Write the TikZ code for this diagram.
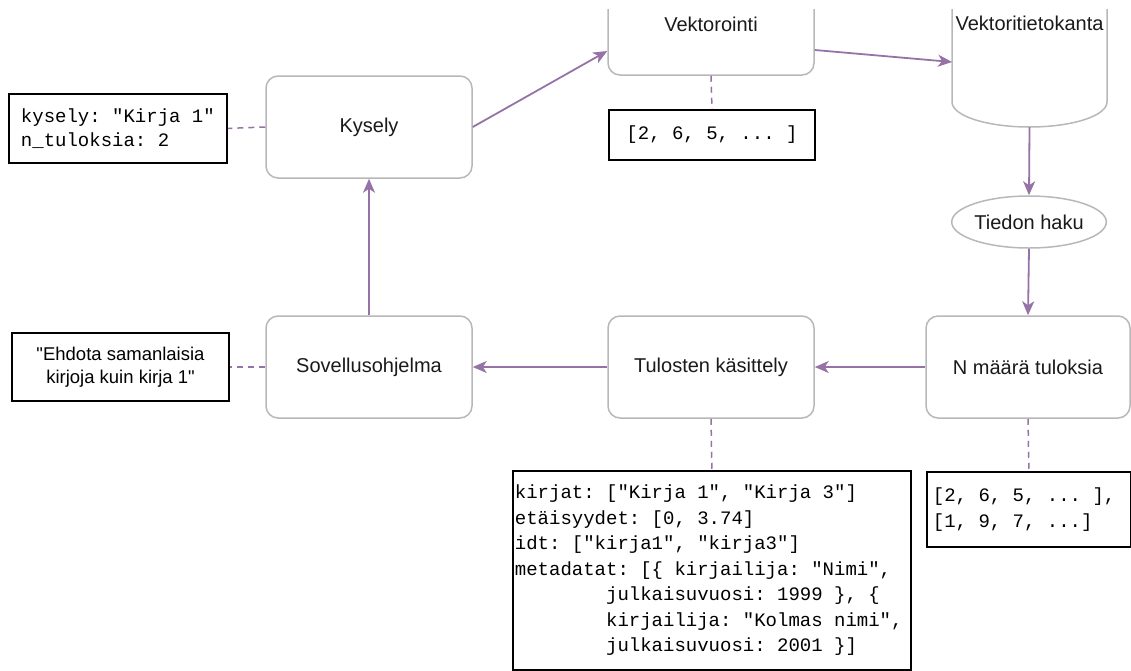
\documentclass[tikz,border=0pt]{standalone}
\usepackage{fontspec}
\setmainfont{Liberation Sans}
\newfontfamily\monof{Liberation Mono}
\usetikzlibrary{shapes.geometric,arrows.meta}
\definecolor{purp}{HTML}{9673A6}
\definecolor{boxgray}{HTML}{B8B8B8}
\definecolor{txt}{HTML}{1A1A1A}
\frenchspacing
\newcommand{\monosize}[2]{\monof\fontsize{#1}{#2}\selectfont}
\newcommand{\fixsp}{\spaceskip=0.6em\relax\xspaceskip=0.6em\relax}
\tikzset{
  proc/.style={draw=boxgray, line width=1.5pt, rounded corners=12pt, fill=white,
    minimum width=206pt, minimum height=102pt, inner sep=0pt, text=txt,
    font=\fontsize{20}{24}\selectfont},
  codebox/.style={draw=black, line width=1.8pt, fill=white, text=black, inner sep=0pt,
    font=\monosize{19}{24}},
  arr/.style={draw=purp, line width=1.8pt, -{Stealth[length=14pt,width=12pt,inset=4pt]}},
  dotline/.style={draw=purp, line width=1.5pt, dash pattern=on 6pt off 5pt},
}
\begin{document}
\begin{tikzpicture}[x=1pt,y=-1pt]
\useasboundingbox (0,0) rectangle (1131,670);
\begin{scope}
\clip (0,9) rectangle (1131,670);
% process boxes
\node[proc] (kys) at (369,127) {Kysely};
\node[proc] (vek) at (711,24) {Vektorointi};
\node[proc] (sov) at (369,367) {Sovellusohjelma};
\node[proc] (tul) at (711,367) {Tulosten käsittely};
\node[proc, minimum width=204pt] (nm) at (1028,367) {N määrä tuloksia};
% cylinder
\draw[boxgray, line width=1.5pt, fill=white] (952,-40) -- (952,102)
   arc[start angle=180, end angle=360, x radius=77.5pt, y radius=25pt] -- (1107,-40);
\node[inner sep=0pt, text=txt, font=\fontsize{20}{24}\selectfont] (cyl) at (1029.5,23) {Vektoritietokanta};
\coordinate (cylw) at (952,62);
\coordinate (cylb) at (1029.5,127);
% ellipse
\node[ellipse, draw=boxgray, line width=1.5pt, fill=white, minimum width=120pt, minimum height=52pt,
  inner sep=0pt, text=txt, font=\fontsize{20}{24}\selectfont] (haku) at (1029,222) {Tiedon haku};
% code boxes
\node[codebox, anchor=north west, minimum width=218pt, minimum height=69pt, align=left] (c1) at (8,93)
  {\fixsp kysely: "Kirja 1"\\n\_tuloksia: 2};
\node[codebox, minimum width=206pt, minimum height=50pt] (c2) at (712,135) {[2, 6, 5, ... ]};
\node[codebox, minimum width=217pt, minimum height=68pt, align=center,
  font=\fontsize{18.5}{23}\selectfont] (c3) at (120.5,367)
  {\textquotedbl Ehdota samanlaisia\\kirjoja kuin kirja 1\textquotedbl};
\node[codebox, anchor=north west, text width=394pt, inner xsep=2pt, inner ysep=14pt, align=left,
  font=\monosize{19}{25.5}] (c4) at (512,470)
  {\fixsp kirjat: ["Kirja 1", "Kirja 3"]\\
   etäisyydet: [0, 3.74]\\
   idt: ["kirja1", "kirja3"]\\
   metadatat: [\{ kirjailija: "Nimi",\\
   \hphantom{metadata}julkaisuvuosi: 1999 \}, \{\\
   \hphantom{metadata}kirjailija: "Kolmas nimi",\\
   \hphantom{metadata}julkaisuvuosi: 2001 \}]\\[12pt]};
\node[codebox, anchor=north west, text width=192pt, inner xsep=6pt, minimum height=75pt, align=left,
  font=\monosize{19}{26}] (c5) at (926,471)
  {\fixsp [2, 6, 5, ... ],\\{}[1, 9, 7, ...]};
% connectors
\draw[arr] (kys.east) -- ([yshift=-27pt]vek.west);
\draw[arr] ([yshift=-26pt]vek.east) -- (cylw);
\draw[arr] (cylb) -- (haku.north);
\draw[arr] (haku.south) -- (nm.north);
\draw[arr] (nm.west) -- (tul.east);
\draw[arr] (tul.west) -- (sov.east);
\draw[arr] (sov.north) -- (kys.south);
\draw[dotline] (kys.west) -- (c1.east);
\draw[dotline] (vek.south) -- (c2.north);
\draw[dotline] (sov.west) -- (c3.east);
\draw[dotline] (tul.south) -- (c4.north);
\draw[dotline] (nm.south) -- (c5.north);
\end{scope}
\end{tikzpicture}
\end{document}
